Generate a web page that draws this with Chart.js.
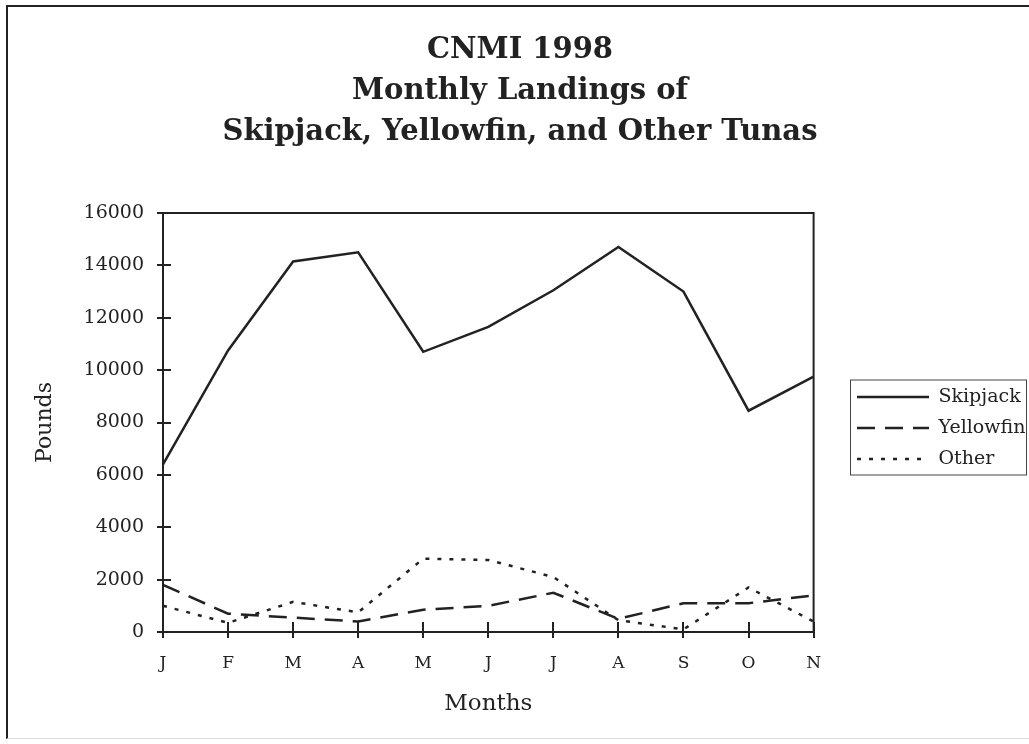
<!DOCTYPE html>
<html>
<head>
<meta charset="utf-8">
<script src="https://cdn.jsdelivr.net/npm/chart.js@4.4.0/dist/chart.umd.min.js"></script>
<style>
  html, body { margin: 0; padding: 0; background: #fff; }
  #wrap { position: relative; width: 1029px; height: 744px; overflow: hidden; }
  #frame { position: absolute; left: 6px; top: 5px; width: 1040px; height: 731px;
           border-left: 2px solid #222; border-top: 2px solid #222; border-bottom: 1px solid #ddd; }
  canvas { position: absolute; left: 0; top: 0; }
</style>
</head>
<body>
<div id="wrap">
  <div id="frame"></div>
  <canvas id="myChart" width="1029" height="744"></canvas>
</div>
<script>
// Data

var months = ["J", "F", "M", "A", "M", "J", "J", "A", "S", "O", "N"];
var skipjack = [6400, 10750, 14150, 14500, 10700, 11650, 13050, 14700, 13000, 8450, 9750];
var yellowfin = [1800, 700, 550, 400, 850, 1000, 1500, 500, 1100, 1100, 1400];
var other = [1000, 350, 1150, 750, 2800, 2750, 2100, 450, 100, 1700, 400];
var yMax = 16000;
var yStep = 2000;

var ink = '#222';
var padL = 36, padR = 25;

Chart.defaults.color = ink;
Chart.defaults.font.family = '"DejaVu Serif", serif';

// plot box + ticks crossing the axes
var plotFrame = {
  id: 'plotFrame',
  afterDatasetsDraw: function(chart) {
    var c = chart.ctx, a = chart.chartArea;
    var x = chart.scales.x, y = chart.scales.y;
    c.save();
    c.strokeStyle = ink;
    c.lineWidth = 2;
    c.strokeRect(a.left, a.top, a.right - a.left, a.bottom - a.top);
    c.beginPath();
    y.ticks.forEach(function(t) {
      var py = Math.round(y.getPixelForValue(t.value));
      c.moveTo(a.left - 6, py);
      c.lineTo(a.left + 8, py);
    });
    x.ticks.forEach(function(t, i) {
      var px = Math.round(x.getPixelForTick(i));
      c.moveTo(px, a.bottom - 10);
      c.lineTo(px, a.bottom + 6);
    });
    c.stroke();
    c.restore();
  }
};

// move legend off the plot and box it
var legendBox = {
  id: 'legendBox',
  afterLayout: function(chart) {
    var lg = chart.legend;
    var dx = 845 - lg.left;
    lg.left += dx; lg.right += dx;
    lg.top += 56; lg.bottom += 56;
  },
  afterDraw: function(chart) {
    var hb = chart.legend.legendHitBoxes;
    if (!hb || !hb.length) return;
    var first = hb[0], last = hb[hb.length - 1];
    var c = chart.ctx;
    c.save();
    c.strokeStyle = '#444';
    c.lineWidth = 1;
    c.strokeRect(first.left - 6.5, first.top - 7.5, 1027 - first.left + 6, last.top + last.height - first.top + 14);
    c.restore();
  }
};

var ctx = document.getElementById('myChart').getContext('2d');

var chart = new Chart(ctx, {
  type: 'line',
  data: {
    labels: months,
    datasets: [{
      label: 'Skipjack',
      data: skipjack,
      borderColor: ink,
      backgroundColor: ink,
      borderWidth: 2.5,
      pointRadius: 0,
      pointStyle: 'line'
    },
    {
      label: 'Yellowfin',
      data: yellowfin,
      borderColor: ink,
      backgroundColor: ink,
      borderWidth: 2.5,
      borderDash: [18, 10],
      pointRadius: 0,
      pointStyle: 'line'
    },
    {
      label: 'Other',
      data: other,
      borderColor: ink,
      backgroundColor: ink,
      borderWidth: 2.5,
      borderDash: [4, 8],
      pointRadius: 0,
      pointStyle: 'line'
    }]
  },
  options: {
    responsive: false,
    animation: false,
    layout: { padding: { left: padL, right: padR, top: 0, bottom: 0 } },
    plugins: {
      title: {
        display: true,
        text: ['CNMI 1998', 'Monthly Landings of', 'Skipjack, Yellowfin, and Other Tunas'],
        color: ink,
        font: { size: 29, weight: 'bold', lineHeight: '41px' },
        padding: { top: 29.5, bottom: 60.5 }
      },
      legend: {
        position: 'right',
        labels: {
          usePointStyle: true,
          pointStyleWidth: 72,
          padding: 12,
          color: ink,
          font: { size: 19 },
          generateLabels: function(chart) {
            var items = Chart.defaults.plugins.legend.labels.generateLabels(chart);
            items.forEach(function(it) {
              var ds = chart.data.datasets[it.datasetIndex];
              it.lineDash = ds.borderDash || [];
              it.lineWidth = 2.5;
              it.pointStyle = 'line';
            });
            return items;
          }
        }
      },
      tooltip: { enabled: false }
    },
    scales: {
      x: {
        grid: { display: false, drawTicks: false },
        border: { display: false },
        ticks: { padding: 21, font: { size: 17 }, color: ink, maxRotation: 0, autoSkip: false },
        title: { display: true, text: 'Months', font: { size: 23 }, padding: { top: 0, bottom: 26 }, color: ink },
        afterFit: function(s) { s.height = 744 - 632; }
      },
      y: {
        min: 0,
        max: yMax,
        grid: { display: false, drawTicks: false },
        border: { display: false },
        ticks: {
          stepSize: yStep,
          padding: 19,
          font: { size: 19 },
          color: ink,
          callback: function(v) { return String(v); }
        },
        title: { display: true, text: 'Pounds', font: { size: 22 }, padding: { top: 45 - padL - 13.2, bottom: 0 }, color: ink },
        afterFit: function(s) { s.width = 163 - padL; }
      }
    }
  },
  plugins: [plotFrame, legendBox]
});
</script>
</body>
</html>
